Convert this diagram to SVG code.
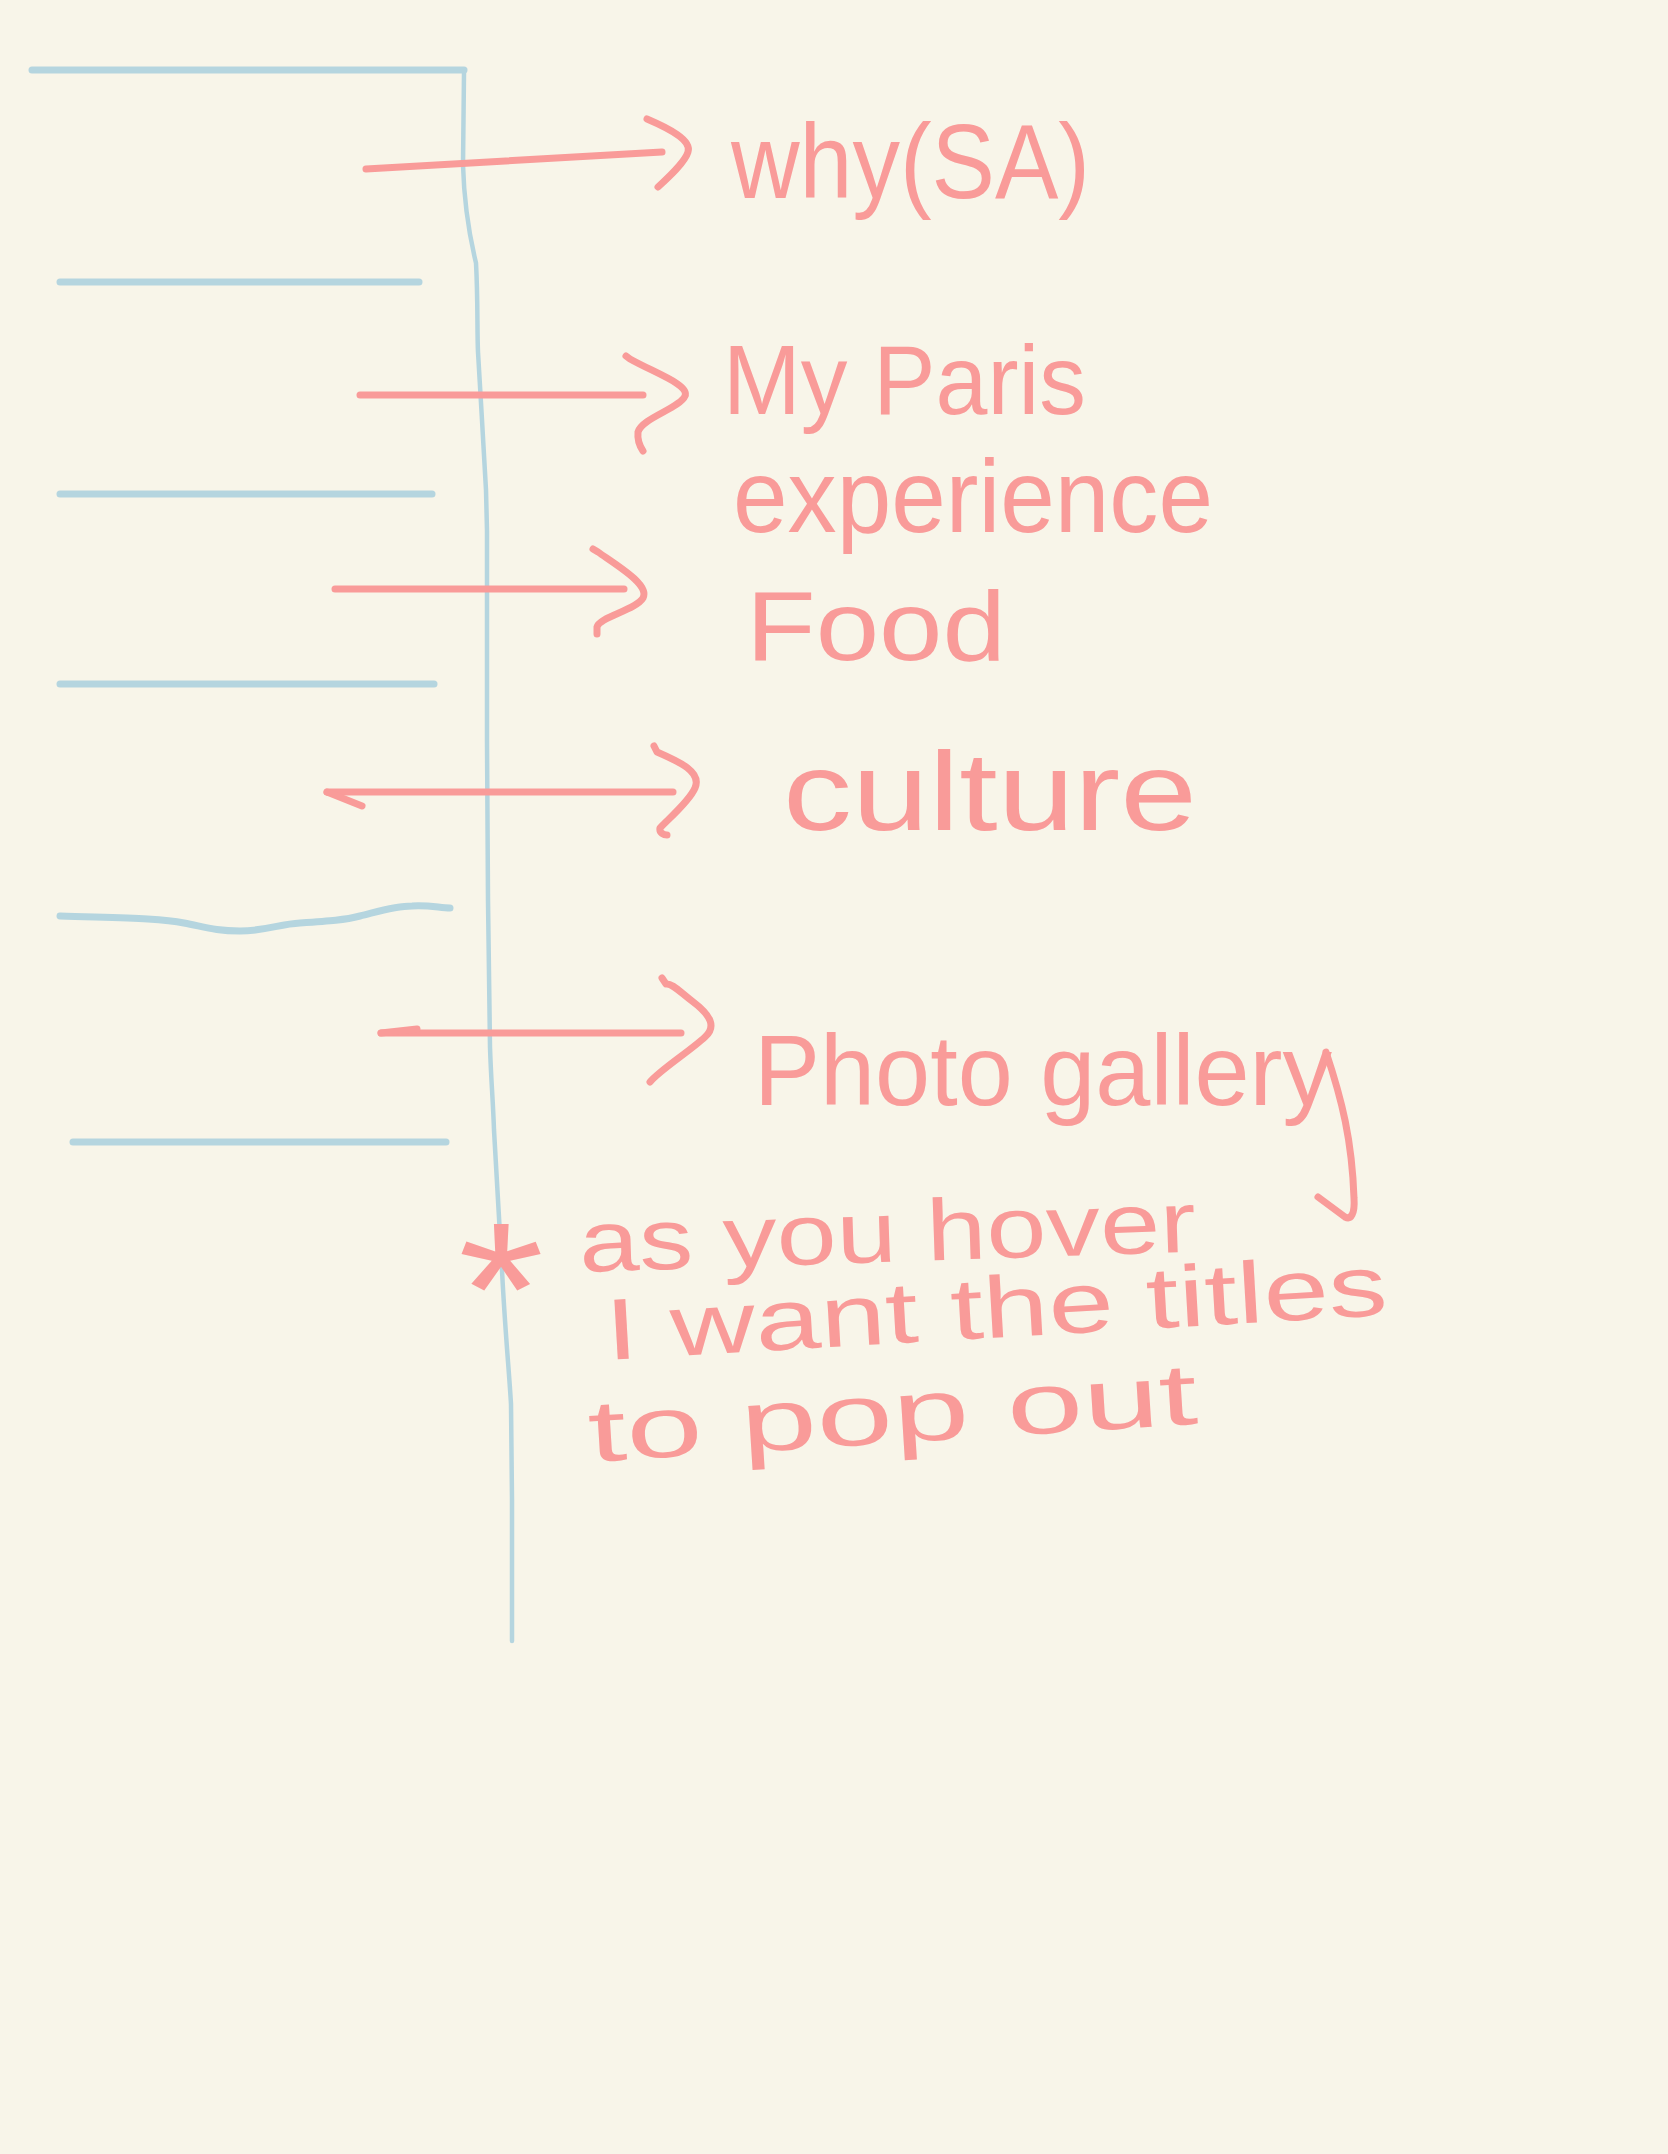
<svg xmlns="http://www.w3.org/2000/svg" width="1668" height="2154" viewBox="0 0 1668 2154">
  <style>
    .bg { fill: #F8F5E9; }
    .blue { fill: none; stroke: #B5D5DF; stroke-width: 7; stroke-linecap: round; stroke-linejoin: round; }
    .spine { fill: none; stroke: #B5D5DF; stroke-width: 4.5; stroke-linecap: round; stroke-linejoin: round; }
    .pink { fill: none; stroke: #F99B99; stroke-width: 7; stroke-linecap: round; stroke-linejoin: round; }
    .label { fill: #F99B99; font-family: "Liberation Sans", "DejaVu Sans", sans-serif; }
  </style>
  <rect class="bg" x="0" y="0" width="1668" height="2154"/>

  <g id="nav-bar">
    <path id="spine" class="spine" d="M464,73 L463,165 C464,200 468,230 476,263 C478,300 477,330 478,352 C481,400 483,440 486,490 L487,531 L487,740 L488,900 L490,1047 C491,1080 493,1100 494,1130 C497,1180 500,1230 502,1270 C505,1330 509,1370 511,1404 L512,1500 L512,1641"/>
    <path id="rule-1" class="blue" d="M32,70 L464,70"/>
    <path id="rule-2" class="blue" d="M60,282 L419,282"/>
    <path id="rule-3" class="blue" d="M60,494 L432,494"/>
    <path id="rule-4" class="blue" d="M60,684 L434,684"/>
    <path id="rule-5" class="blue" d="M60,916 C120,918 160,918 184,923 C205,927 215,931 240,931 C265,931 280,924 300,923 C330,921 345,920 360,916 C380,911 395,906 412,906 C430,905 440,908 450,908"/>
    <path id="rule-6" class="blue" d="M73,1142 L446,1142"/>
  </g>

  <g id="connectors">
    <g id="arrow-why">
      <path class="pink" d="M366,169 L662,152"/>
      <path class="pink" d="M647,119 C668,128 692,140 688,152 C685,162 670,176 658,187"/>
    </g>
    <g id="arrow-paris">
      <path class="pink" d="M360,395 L643,395"/>
      <path class="pink" d="M626,356 L630,359 C655,373 690,385 685,396 C680,408 642,418 638,432 C637,442 641,448 643,451"/>
    </g>
    <g id="arrow-food">
      <path class="pink" d="M335,589 L624,589"/>
      <path class="pink" d="M593,549 L598,552 C618,566 650,585 643,598 C636,610 599,617 597,627 L597,634"/>
    </g>
    <g id="arrow-culture">
      <path class="pink" d="M327,792 L673,792"/>
      <path class="pink" d="M327,792 L362,806"/>
      <path class="pink" d="M654,746 L657,752 C680,762 702,772 695,788 C689,802 667,820 660,828 C659,833 664,835 667,835"/>
    </g>
    <g id="arrow-photo">
      <path class="pink" d="M381,1033 L681,1033"/>
      <path class="pink" d="M381,1033 L417,1029"/>
      <path class="pink" d="M662,978 L666,984 C672,983 680,992 692,1001 C712,1016 716,1027 705,1037 C690,1051 660,1070 650,1082"/>
    </g>
  </g>

  <g id="node-why">
    <text class="label" x="731" y="198" font-size="105" textLength="359" lengthAdjust="spacingAndGlyphs">why(SA)</text>
  </g>
  <g id="node-paris">
    <text class="label" x="723" y="414" font-size="98" textLength="363" lengthAdjust="spacingAndGlyphs">My Paris</text>
    <text class="label" x="733" y="532" font-size="104" textLength="480" lengthAdjust="spacingAndGlyphs">experience</text>
  </g>
  <g id="node-food">
    <text class="label" x="746" y="660" font-size="98" textLength="260" lengthAdjust="spacingAndGlyphs">Food</text>
  </g>
  <g id="node-culture">
    <text class="label" x="783" y="830" font-size="112" textLength="414" lengthAdjust="spacingAndGlyphs">culture</text>
  </g>
  <g id="node-photo">
    <text class="label" x="754" y="1105" font-size="100" textLength="578" lengthAdjust="spacingAndGlyphs">Photo gallery</text>
    <path class="pink" d="M1326,1052 C1342,1100 1352,1140 1354,1198 C1355,1214 1351,1220 1345,1217 L1318,1197"/>
  </g>

  <g id="note">
    <text class="label" x="458" y="1354" font-size="190" textLength="86" lengthAdjust="spacingAndGlyphs">*</text>
    <text class="label" x="580" y="1272" font-size="87" textLength="617" lengthAdjust="spacingAndGlyphs" transform="rotate(-1.9 580 1272)">as you hover</text>
    <text class="label" x="607" y="1360" font-size="87" textLength="783" lengthAdjust="spacingAndGlyphs" transform="rotate(-3.3 607 1360)">I want the titles</text>
    <text class="label" x="590" y="1462" font-size="87" textLength="610" lengthAdjust="spacingAndGlyphs" transform="rotate(-3.6 590 1462)">to pop out</text>
  </g>
</svg>
